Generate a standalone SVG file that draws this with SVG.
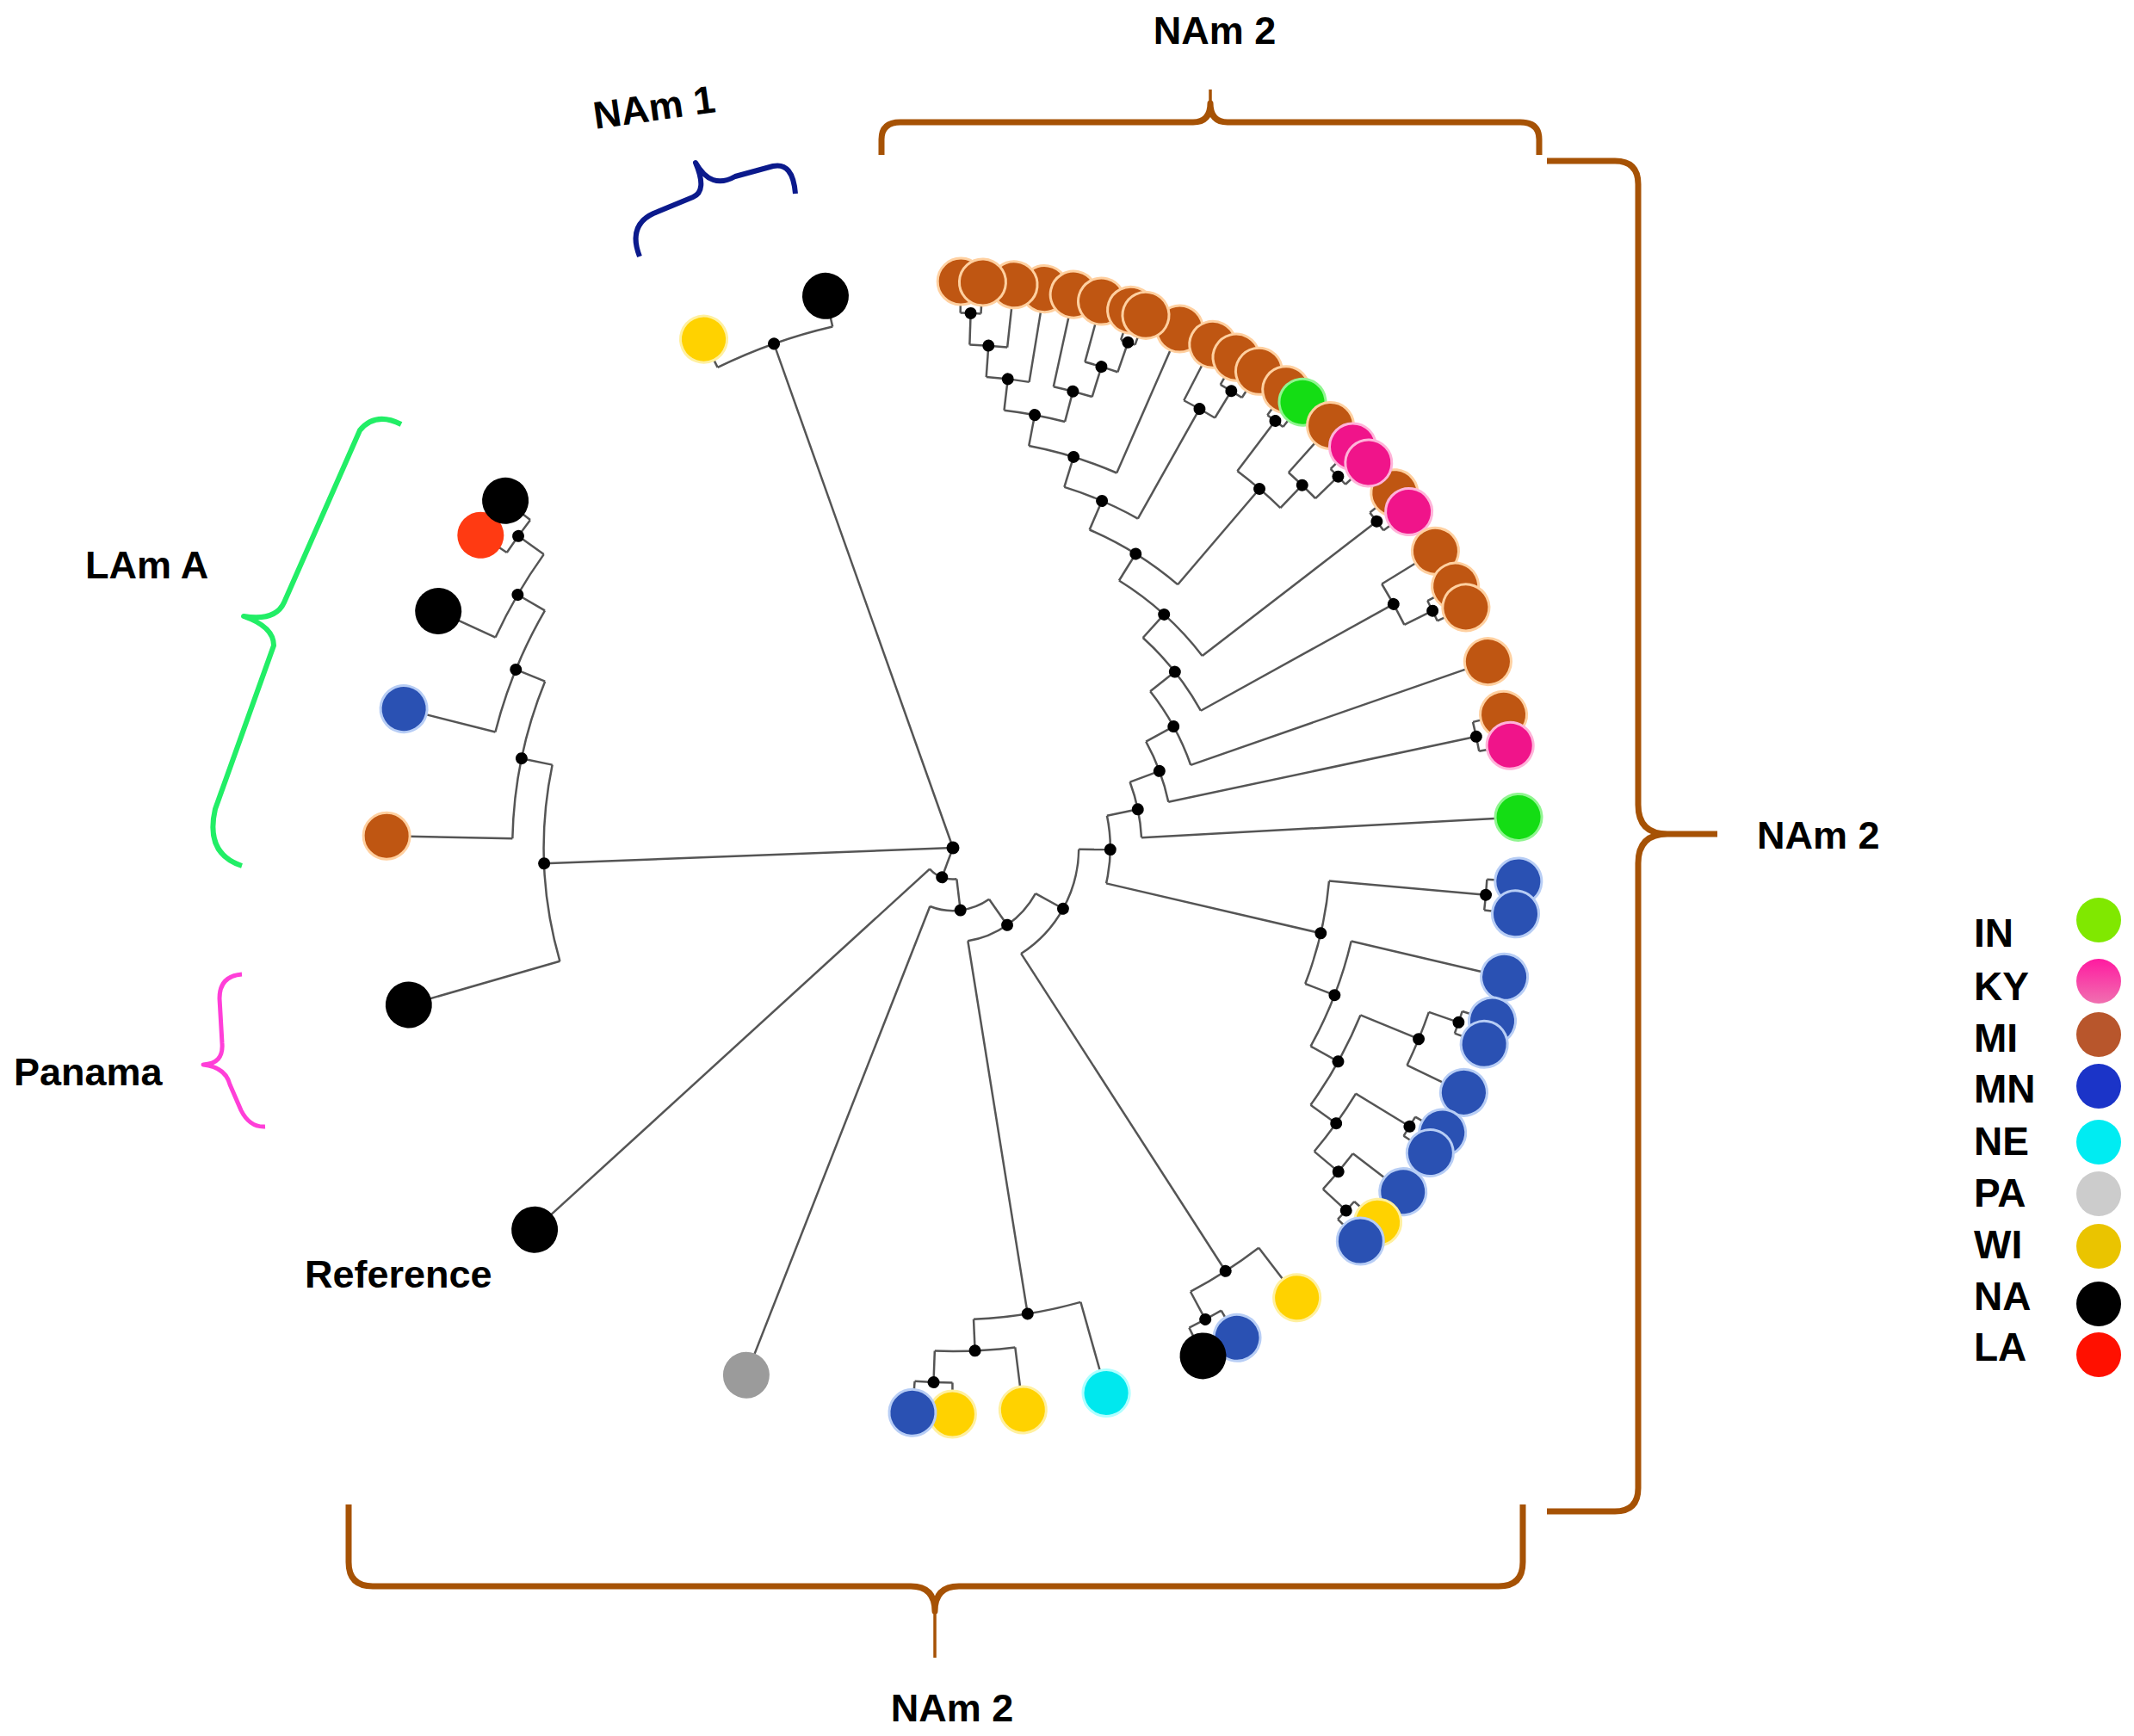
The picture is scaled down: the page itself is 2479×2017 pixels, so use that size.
<svg xmlns="http://www.w3.org/2000/svg" width="2479" height="2017" viewBox="0 0 2479 2017">
<defs>
<style>
.lbl{font-family:"Liberation Sans",Arial,sans-serif;font-weight:bold;font-size:45px;fill:#000}
.leg{font-family:"Liberation Sans",Arial,sans-serif;font-weight:bold;font-size:46px;fill:#000}
.brace{fill:none;stroke-linecap:butt;stroke-linejoin:round}
.tb{fill:#bf5612;stroke:#ffd0a0;stroke-width:3}
.tp{fill:#f0148a;stroke:#ffb3d9;stroke-width:3}
.tg{fill:#14dd14;stroke:#90f590;stroke-width:3}
.tu{fill:#2a51b3;stroke:#b7cdf5;stroke-width:3}
.ty{fill:#ffd200;stroke:#fff0a0;stroke-width:3}
.tc{fill:#00e8ee;stroke:#b0ffff;stroke-width:3}
.tk{fill:#000}
.tr{fill:#ff3a12}
.ta{fill:#9b9b9b}
.dot{fill:#000}
</style>
<linearGradient id="kyg" x1="0" y1="0" x2="0" y2="1">
<stop offset="0" stop-color="#ff1aa0"/>
<stop offset="1" stop-color="#f070b0"/>
</linearGradient>
</defs>
<rect width="2479" height="2017" fill="#fff"/>

<g id="connectors" transform="translate(1107,985)" fill="none" stroke="#555" stroke-width="2.5">
<path transform="rotate(110.38)" d="M0 0H36.56"/>
<path transform="rotate(177.8)" d="M0 0H475.23"/>
<path transform="rotate(250.45)" d="M0 0H621.45"/>
<circle r="621.45" transform="rotate(243.9)" stroke-dasharray="142.09 9999"/>
<path transform="rotate(243.9)" d="M621.45 0H658"/>
<path transform="rotate(257)" d="M621.45 0H658"/>
<circle r="475.23" transform="rotate(163.9)" stroke-dasharray="230.58 9999"/>
<path transform="rotate(163.9)" d="M475.23 0H658"/>
<path transform="rotate(191.7)" d="M475.23 0H511.78"/>
<circle r="511.78" transform="rotate(181.2)" stroke-dasharray="187.5 9999"/>
<path transform="rotate(181.2)" d="M511.78 0H658"/>
<path transform="rotate(202.19)" d="M511.78 0H548.34"/>
<circle r="548.34" transform="rotate(194.2)" stroke-dasharray="152.89 9999"/>
<path transform="rotate(194.2)" d="M548.34 0H658"/>
<path transform="rotate(210.175)" d="M548.34 0H584.9"/>
<circle r="584.9" transform="rotate(204.7)" stroke-dasharray="111.78 9999"/>
<path transform="rotate(204.7)" d="M584.9 0H658"/>
<path transform="rotate(215.65)" d="M584.9 0H621.45"/>
<circle r="621.45" transform="rotate(213.5)" stroke-dasharray="46.64 9999"/>
<path transform="rotate(213.5)" d="M621.45 0H658"/>
<path transform="rotate(217.8)" d="M621.45 0H658"/>
<circle r="36.56" transform="rotate(83.16)" stroke-dasharray="34.73 9999"/>
<path transform="rotate(83.16)" d="M36.56 0H73.11"/>
<path transform="rotate(137.6)" d="M36.56 0H658"/>
<circle r="73.11" transform="rotate(54.92)" stroke-dasharray="72.07 9999"/>
<path transform="rotate(54.92)" d="M73.11 0H109.67"/>
<path transform="rotate(111.4)" d="M73.11 0H658"/>
<circle r="109.67" transform="rotate(28.945)" stroke-dasharray="99.44 9999"/>
<path transform="rotate(28.945)" d="M109.67 0H146.22"/>
<path transform="rotate(80.9)" d="M109.67 0H548.34"/>
<circle r="548.34" transform="rotate(74.3)" stroke-dasharray="126.23 9999"/>
<path transform="rotate(74.3)" d="M548.34 0H658"/>
<path transform="rotate(87.49)" d="M548.34 0H584.9"/>
<circle r="584.9" transform="rotate(82.9)" stroke-dasharray="93.66 9999"/>
<path transform="rotate(82.9)" d="M584.9 0H658"/>
<path transform="rotate(92.075)" d="M584.9 0H621.45"/>
<circle r="621.45" transform="rotate(90.05)" stroke-dasharray="43.93 9999"/>
<path transform="rotate(90.05)" d="M621.45 0H658"/>
<path transform="rotate(94.1)" d="M621.45 0H658"/>
<circle r="146.22" transform="rotate(0.665)" stroke-dasharray="144.34 9999"/>
<path transform="rotate(0.665)" d="M146.22 0H182.78"/>
<path transform="rotate(57.225)" d="M146.22 0H584.9"/>
<circle r="584.9" transform="rotate(52.6)" stroke-dasharray="94.43 9999"/>
<path transform="rotate(52.6)" d="M584.9 0H658"/>
<path transform="rotate(61.85)" d="M584.9 0H621.45"/>
<circle r="621.45" transform="rotate(59.9)" stroke-dasharray="42.3 9999"/>
<path transform="rotate(59.9)" d="M621.45 0H658"/>
<path transform="rotate(63.8)" d="M621.45 0H658"/>
<circle r="182.78" transform="rotate(-11.75)" stroke-dasharray="79.21 9999"/>
<path transform="rotate(-11.75)" d="M182.78 0H219.33"/>
<path transform="rotate(13.08)" d="M182.78 0H438.67"/>
<circle r="438.67" transform="rotate(5.05)" stroke-dasharray="122.96 9999"/>
<path transform="rotate(5.05)" d="M438.67 0H621.45"/>
<path transform="rotate(21.11)" d="M438.67 0H475.23"/>
<circle r="621.45" transform="rotate(3.4)" stroke-dasharray="35.79 9999"/>
<path transform="rotate(3.4)" d="M621.45 0H658"/>
<path transform="rotate(6.7)" d="M621.45 0H658"/>
<circle r="475.23" transform="rotate(13.2)" stroke-dasharray="131.26 9999"/>
<path transform="rotate(13.2)" d="M475.23 0H658"/>
<path transform="rotate(29.025)" d="M475.23 0H511.78"/>
<circle r="511.78" transform="rotate(22.325)" stroke-dasharray="119.69 9999"/>
<path transform="rotate(22.325)" d="M511.78 0H584.9"/>
<path transform="rotate(35.725)" d="M511.78 0H548.34"/>
<circle r="584.9" transform="rotate(19.05)" stroke-dasharray="66.86 9999"/>
<path transform="rotate(19.05)" d="M584.9 0H621.45"/>
<path transform="rotate(25.6)" d="M584.9 0H658"/>
<circle r="621.45" transform="rotate(17.8)" stroke-dasharray="27.12 9999"/>
<path transform="rotate(17.8)" d="M621.45 0H658"/>
<path transform="rotate(20.3)" d="M621.45 0H658"/>
<circle r="548.34" transform="rotate(31.4)" stroke-dasharray="82.78 9999"/>
<path transform="rotate(31.4)" d="M548.34 0H621.45"/>
<path transform="rotate(40.05)" d="M548.34 0H584.9"/>
<circle r="621.45" transform="rotate(30.2)" stroke-dasharray="26.03 9999"/>
<path transform="rotate(30.2)" d="M621.45 0H658"/>
<path transform="rotate(32.6)" d="M621.45 0H658"/>
<circle r="584.9" transform="rotate(37.4)" stroke-dasharray="54.1 9999"/>
<path transform="rotate(37.4)" d="M584.9 0H658"/>
<path transform="rotate(42.7)" d="M584.9 0H621.45"/>
<circle r="621.45" transform="rotate(41.4)" stroke-dasharray="28.2 9999"/>
<path transform="rotate(41.4)" d="M621.45 0H658"/>
<path transform="rotate(44)" d="M621.45 0H658"/>
<circle r="219.33" transform="rotate(-20.4)" stroke-dasharray="66.23 9999"/>
<path transform="rotate(-20.4)" d="M219.33 0H255.89"/>
<path transform="rotate(-3.1)" d="M219.33 0H658"/>
<circle r="255.89" transform="rotate(-28.805)" stroke-dasharray="75.05 9999"/>
<path transform="rotate(-28.805)" d="M255.89 0H292.45"/>
<path transform="rotate(-12)" d="M255.89 0H621.45"/>
<circle r="621.45" transform="rotate(-13.6)" stroke-dasharray="34.71 9999"/>
<path transform="rotate(-13.6)" d="M621.45 0H658"/>
<path transform="rotate(-10.4)" d="M621.45 0H658"/>
<circle r="292.45" transform="rotate(-38.41)" stroke-dasharray="98.05 9999"/>
<path transform="rotate(-38.41)" d="M292.45 0H329"/>
<path transform="rotate(-19.2)" d="M292.45 0H658"/>
<circle r="329" transform="rotate(-47.87)" stroke-dasharray="108.64 9999"/>
<path transform="rotate(-47.87)" d="M329 0H365.56"/>
<path transform="rotate(-28.95)" d="M329 0H584.9"/>
<circle r="584.9" transform="rotate(-31.6)" stroke-dasharray="54.1 9999"/>
<path transform="rotate(-31.6)" d="M584.9 0H658"/>
<path transform="rotate(-26.3)" d="M584.9 0H621.45"/>
<circle r="621.45" transform="rotate(-27.5)" stroke-dasharray="26.03 9999"/>
<path transform="rotate(-27.5)" d="M621.45 0H658"/>
<path transform="rotate(-25.1)" d="M621.45 0H658"/>
<circle r="365.56" transform="rotate(-58.14)" stroke-dasharray="131.05 9999"/>
<path transform="rotate(-58.14)" d="M365.56 0H402.11"/>
<path transform="rotate(-37.6)" d="M365.56 0H621.45"/>
<circle r="621.45" transform="rotate(-38.8)" stroke-dasharray="26.03 9999"/>
<path transform="rotate(-38.8)" d="M621.45 0H658"/>
<path transform="rotate(-36.4)" d="M621.45 0H658"/>
<circle r="402.11" transform="rotate(-66.76)" stroke-dasharray="121.07 9999"/>
<path transform="rotate(-66.76)" d="M402.11 0H438.67"/>
<path transform="rotate(-49.51)" d="M402.11 0H548.34"/>
<circle r="548.34" transform="rotate(-52.95)" stroke-dasharray="65.8 9999"/>
<path transform="rotate(-52.95)" d="M548.34 0H621.45"/>
<path transform="rotate(-46.075)" d="M548.34 0H584.9"/>
<circle r="621.45" transform="rotate(-54)" stroke-dasharray="22.78 9999"/>
<path transform="rotate(-54)" d="M621.45 0H658"/>
<path transform="rotate(-51.9)" d="M621.45 0H658"/>
<circle r="584.9" transform="rotate(-48.2)" stroke-dasharray="43.39 9999"/>
<path transform="rotate(-48.2)" d="M584.9 0H658"/>
<path transform="rotate(-43.95)" d="M584.9 0H621.45"/>
<circle r="621.45" transform="rotate(-45.1)" stroke-dasharray="24.95 9999"/>
<path transform="rotate(-45.1)" d="M621.45 0H658"/>
<path transform="rotate(-42.8)" d="M621.45 0H658"/>
<circle r="438.67" transform="rotate(-72.85)" stroke-dasharray="93.21 9999"/>
<path transform="rotate(-72.85)" d="M438.67 0H475.23"/>
<path transform="rotate(-60.675)" d="M438.67 0H584.9"/>
<circle r="584.9" transform="rotate(-62.7)" stroke-dasharray="41.34 9999"/>
<path transform="rotate(-62.7)" d="M584.9 0H658"/>
<path transform="rotate(-58.65)" d="M584.9 0H621.45"/>
<circle r="621.45" transform="rotate(-60)" stroke-dasharray="29.28 9999"/>
<path transform="rotate(-60)" d="M621.45 0H658"/>
<path transform="rotate(-57.3)" d="M621.45 0H658"/>
<circle r="475.23" transform="rotate(-79.3)" stroke-dasharray="107 9999"/>
<path transform="rotate(-79.3)" d="M475.23 0H511.78"/>
<path transform="rotate(-66.4)" d="M475.23 0H658"/>
<circle r="511.78" transform="rotate(-83.325)" stroke-dasharray="71.9 9999"/>
<path transform="rotate(-83.325)" d="M511.78 0H548.34"/>
<path transform="rotate(-75.275)" d="M511.78 0H548.34"/>
<circle r="548.34" transform="rotate(-85.95)" stroke-dasharray="50.24 9999"/>
<path transform="rotate(-85.95)" d="M548.34 0H584.9"/>
<path transform="rotate(-80.7)" d="M548.34 0H658"/>
<circle r="584.9" transform="rotate(-88.1)" stroke-dasharray="43.9 9999"/>
<path transform="rotate(-88.1)" d="M584.9 0H621.45"/>
<path transform="rotate(-83.8)" d="M584.9 0H658"/>
<circle r="621.45" transform="rotate(-89.2)" stroke-dasharray="23.86 9999"/>
<path transform="rotate(-89.2)" d="M621.45 0H658"/>
<path transform="rotate(-87)" d="M621.45 0H658"/>
<circle r="548.34" transform="rotate(-77.7)" stroke-dasharray="46.42 9999"/>
<path transform="rotate(-77.7)" d="M548.34 0H658"/>
<path transform="rotate(-72.85)" d="M548.34 0H584.9"/>
<circle r="584.9" transform="rotate(-74.8)" stroke-dasharray="39.81 9999"/>
<path transform="rotate(-74.8)" d="M584.9 0H658"/>
<path transform="rotate(-70.9)" d="M584.9 0H621.45"/>
<circle r="621.45" transform="rotate(-71.7)" stroke-dasharray="17.35 9999"/>
<path transform="rotate(-71.7)" d="M621.45 0H658"/>
<path transform="rotate(-70.1)" d="M621.45 0H658"/>
</g>

<g id="tips" transform="translate(1107,985)">
<g id="tip-mi-01" transform="rotate(-89.2)"><circle class="tb" cx="658" r="27"/></g>
<g id="tip-mi-04" transform="rotate(-80.7)"><circle class="tb" cx="658" r="27"/></g>
<g id="tip-mi-03" transform="rotate(-83.8)"><circle class="tb" cx="658" r="27"/></g>
<g id="tip-mi-02" transform="rotate(-87)"><circle class="tb" cx="658" r="27"/></g>
<g id="tip-mi-05" transform="rotate(-77.7)"><circle class="tb" cx="658" r="27"/></g>
<g id="tip-mi-06" transform="rotate(-74.8)"><circle class="tb" cx="658" r="27"/></g>
<g id="tip-mi-07" transform="rotate(-71.7)"><circle class="tb" cx="658" r="27"/></g>
<g id="tip-mi-09" transform="rotate(-66.4)"><circle class="tb" cx="658" r="27"/></g>
<g id="tip-mi-08" transform="rotate(-70.1)"><circle class="tb" cx="658" r="27"/></g>
<g id="tip-mi-10" transform="rotate(-62.7)"><circle class="tb" cx="658" r="27"/></g>
<g id="tip-mi-11" transform="rotate(-60)"><circle class="tb" cx="658" r="27"/></g>
<g id="tip-mi-12" transform="rotate(-57.3)"><circle class="tb" cx="658" r="27"/></g>
<g id="tip-mi-13" transform="rotate(-54)"><circle class="tb" cx="658" r="27"/></g>
<g id="tip-in-01" transform="rotate(-51.9)"><circle class="tg" cx="658" r="27"/></g>
<g id="tip-mi-14" transform="rotate(-48.2)"><circle class="tb" cx="658" r="27"/></g>
<g id="tip-mi-15" transform="rotate(-38.8)"><circle class="tb" cx="658" r="27"/></g>
<g id="tip-ky-01" transform="rotate(-45.1)"><circle class="tp" cx="658" r="27"/></g>
<g id="tip-ky-02" transform="rotate(-42.8)"><circle class="tp" cx="658" r="27"/></g>
<g id="tip-ky-03" transform="rotate(-36.4)"><circle class="tp" cx="658" r="27"/></g>
<g id="tip-mi-16" transform="rotate(-31.6)"><circle class="tb" cx="658" r="27"/></g>
<g id="tip-mi-17" transform="rotate(-27.5)"><circle class="tb" cx="658" r="27"/></g>
<g id="tip-mi-18" transform="rotate(-25.1)"><circle class="tb" cx="658" r="27"/></g>
<g id="tip-mi-19" transform="rotate(-19.2)"><circle class="tb" cx="658" r="27"/></g>
<g id="tip-mi-20" transform="rotate(-13.6)"><circle class="tb" cx="658" r="27"/></g>
<g id="tip-ky-04" transform="rotate(-10.4)"><circle class="tp" cx="658" r="27"/></g>
<g id="tip-in-02" transform="rotate(-3.1)"><circle class="tg" cx="658" r="27"/></g>
<g id="tip-mn-01" transform="rotate(3.4)"><circle class="tu" cx="658" r="27"/></g>
<g id="tip-mn-02" transform="rotate(6.7)"><circle class="tu" cx="658" r="27"/></g>
<g id="tip-mn-03" transform="rotate(13.2)"><circle class="tu" cx="658" r="27"/></g>
<g id="tip-mn-04" transform="rotate(17.8)"><circle class="tu" cx="658" r="27"/></g>
<g id="tip-mn-05" transform="rotate(20.3)"><circle class="tu" cx="658" r="27"/></g>
<g id="tip-mn-06" transform="rotate(25.6)"><circle class="tu" cx="658" r="27"/></g>
<g id="tip-mn-07" transform="rotate(30.2)"><circle class="tu" cx="658" r="27"/></g>
<g id="tip-mn-08" transform="rotate(32.6)"><circle class="tu" cx="658" r="27"/></g>
<g id="tip-mn-09" transform="rotate(37.4)"><circle class="tu" cx="658" r="27"/></g>
<g id="tip-wi-01" transform="rotate(41.4)"><circle class="ty" cx="658" r="27"/></g>
<g id="tip-mn-10" transform="rotate(44)"><circle class="tu" cx="658" r="27"/></g>
<g id="tip-wi-02" transform="rotate(52.6)"><circle class="ty" cx="658" r="27"/></g>
<g id="tip-mn-11" transform="rotate(59.9)"><circle class="tu" cx="658" r="27"/></g>
<g id="tip-na-01" transform="rotate(63.8)"><circle class="tk" cx="658" r="27"/></g>
<g id="tip-ne-01" transform="rotate(74.3)"><circle class="tc" cx="658" r="27"/></g>
<g id="tip-wi-03" transform="rotate(82.9)"><circle class="ty" cx="658" r="27"/></g>
<g id="tip-wi-04" transform="rotate(90.05)"><circle class="ty" cx="658" r="27"/></g>
<g id="tip-mn-12" transform="rotate(94.1)"><circle class="tu" cx="658" r="27"/></g>
<g id="tip-pa-01" transform="rotate(111.4)"><circle class="ta" cx="658" r="27"/></g>
<g id="tip-reference" transform="rotate(137.6)"><circle class="tk" cx="658" r="27"/></g>
<g id="tip-panama" transform="rotate(163.9)"><circle class="tk" cx="658" r="27"/></g>
<g id="tip-lam-mi" transform="rotate(181.2)"><circle class="tb" cx="658" r="27"/></g>
<g id="tip-lam-mn" transform="rotate(194.2)"><circle class="tu" cx="658" r="27"/></g>
<g id="tip-lam-na-02" transform="rotate(204.7)"><circle class="tk" cx="658" r="27"/></g>
<g id="tip-lam-la" transform="rotate(213.5)"><circle class="tr" cx="658" r="27"/></g>
<g id="tip-lam-na-01" transform="rotate(217.8)"><circle class="tk" cx="658" r="27"/></g>
<g id="tip-nam1-wi" transform="rotate(243.9)"><circle class="ty" cx="658" r="27"/></g>
<g id="tip-nam1-na" transform="rotate(257)"><circle class="tk" cx="658" r="27"/></g>
</g>

<g id="internal-nodes" transform="translate(1107,985)" class="dot">
<g id="n-root"><circle r="7.5"/></g>
<g id="n-N1" transform="rotate(110.38)"><circle cx="36.56" r="7"/></g>
<g id="n-N2" transform="rotate(83.16)"><circle cx="73.11" r="7"/></g>
<g id="n-N3" transform="rotate(54.92)"><circle cx="109.67" r="7"/></g>
<g id="n-N4" transform="rotate(28.945)"><circle cx="146.22" r="7"/></g>
<g id="n-N5" transform="rotate(0.665)"><circle cx="182.78" r="7"/></g>
<g id="n-N6" transform="rotate(-11.75)"><circle cx="219.33" r="7"/></g>
<g id="n-N7" transform="rotate(-20.4)"><circle cx="255.89" r="7"/></g>
<g id="n-N8" transform="rotate(-28.805)"><circle cx="292.45" r="7"/></g>
<g id="n-N9" transform="rotate(-38.41)"><circle cx="329" r="7"/></g>
<g id="n-U8" transform="rotate(-47.87)"><circle cx="365.56" r="7"/></g>
<g id="n-U7" transform="rotate(-58.14)"><circle cx="402.11" r="7"/></g>
<g id="n-U6" transform="rotate(-66.76)"><circle cx="438.67" r="7"/></g>
<g id="n-U5" transform="rotate(-72.85)"><circle cx="475.23" r="7"/></g>
<g id="n-U4" transform="rotate(-79.3)"><circle cx="511.78" r="7"/></g>
<g id="n-U3" transform="rotate(-83.325)"><circle cx="548.34" r="7"/></g>
<g id="n-U2" transform="rotate(-85.95)"><circle cx="584.9" r="7"/></g>
<g id="n-U1" transform="rotate(-88.1)"><circle cx="621.45" r="7"/></g>
<g id="n-U13" transform="rotate(-75.275)"><circle cx="548.34" r="7"/></g>
<g id="n-U14" transform="rotate(-72.85)"><circle cx="584.9" r="7"/></g>
<g id="n-U15" transform="rotate(-70.9)"><circle cx="621.45" r="7"/></g>
<g id="n-U16" transform="rotate(-60.675)"><circle cx="584.9" r="7"/></g>
<g id="n-U17" transform="rotate(-58.65)"><circle cx="621.45" r="7"/></g>
<g id="n-U18" transform="rotate(-49.51)"><circle cx="548.34" r="7"/></g>
<g id="n-U19" transform="rotate(-52.95)"><circle cx="621.45" r="7"/></g>
<g id="n-U20" transform="rotate(-46.075)"><circle cx="584.9" r="7"/></g>
<g id="n-U21" transform="rotate(-43.95)"><circle cx="621.45" r="7"/></g>
<g id="n-U22" transform="rotate(-37.6)"><circle cx="621.45" r="7"/></g>
<g id="n-U23" transform="rotate(-28.95)"><circle cx="584.9" r="7"/></g>
<g id="n-U24" transform="rotate(-26.3)"><circle cx="621.45" r="7"/></g>
<g id="n-U25" transform="rotate(-12)"><circle cx="621.45" r="7"/></g>
<g id="n-M1" transform="rotate(13.08)"><circle cx="438.67" r="7"/></g>
<g id="n-M10" transform="rotate(5.05)"><circle cx="621.45" r="7"/></g>
<g id="n-M2" transform="rotate(21.11)"><circle cx="475.23" r="7"/></g>
<g id="n-M3" transform="rotate(29.025)"><circle cx="511.78" r="7"/></g>
<g id="n-M7" transform="rotate(22.325)"><circle cx="584.9" r="7"/></g>
<g id="n-M8" transform="rotate(19.05)"><circle cx="621.45" r="7"/></g>
<g id="n-M4" transform="rotate(35.725)"><circle cx="548.34" r="7"/></g>
<g id="n-M9" transform="rotate(31.4)"><circle cx="621.45" r="7"/></g>
<g id="n-M5" transform="rotate(40.05)"><circle cx="584.9" r="7"/></g>
<g id="n-M6" transform="rotate(42.7)"><circle cx="621.45" r="7"/></g>
<g id="n-BB1" transform="rotate(57.225)"><circle cx="584.9" r="7"/></g>
<g id="n-BB2" transform="rotate(61.85)"><circle cx="621.45" r="7"/></g>
<g id="n-BC1" transform="rotate(80.9)"><circle cx="548.34" r="7"/></g>
<g id="n-BC2" transform="rotate(87.49)"><circle cx="584.9" r="7"/></g>
<g id="n-BC3" transform="rotate(92.075)"><circle cx="621.45" r="7"/></g>
<g id="n-A" transform="rotate(177.8)"><circle cx="475.23" r="7"/></g>
<g id="n-B" transform="rotate(191.7)"><circle cx="511.78" r="7"/></g>
<g id="n-C" transform="rotate(202.19)"><circle cx="548.34" r="7"/></g>
<g id="n-D" transform="rotate(210.175)"><circle cx="584.9" r="7"/></g>
<g id="n-E" transform="rotate(215.65)"><circle cx="621.45" r="7"/></g>
<g id="n-NAm1" transform="rotate(250.45)"><circle cx="621.45" r="7"/></g>
</g>

<g id="clade-nam2-top">
<path class="brace" stroke="#a65205" stroke-width="7" d="M1024,180 L1024,162 Q1024,142 1046,142 L1386,142 Q1406,142 1406,120 Q1406,142 1426,142 L1766,142 Q1788,142 1788,162 L1788,180"/>
<path fill="none" stroke="#a65205" stroke-width="3.5" d="M1406,124 L1406,104"/>
<text class="lbl" x="1411" y="51" text-anchor="middle">NAm 2</text>
</g>
<g id="clade-nam2-right">
<path class="brace" stroke="#a65205" stroke-width="7" d="M1797,187 L1876,187 Q1903,187 1903,214 L1903,935 Q1903,969 1937,969 L1995,969 M1937,969 Q1903,969 1903,1003 L1903,1729 Q1903,1756 1876,1756 L1797,1756"/>
<text class="lbl" x="2041" y="986">NAm 2</text>
</g>
<g id="clade-nam2-bottom">
<path class="brace" stroke="#a65205" stroke-width="7" d="M405,1748 L405,1815 Q405,1843 433,1843 L1058,1843 Q1086,1843 1086,1872 Q1086,1843 1114,1843 L1741,1843 Q1769,1843 1769,1815 L1769,1748"/>
<path fill="none" stroke="#a65205" stroke-width="3.5" d="M1086,1866 L1086,1926"/>
<text class="lbl" x="1106" y="2000" text-anchor="middle">NAm 2</text>
</g>
<g id="clade-nam1">
<path class="brace" stroke="#0b1a8c" stroke-width="6" d="M743,298 Q729,262 759,248 L805,229 Q822,222 808,189 Q826,221 854,205 L898,193 Q921,188 924,225"/>
<text class="lbl" x="762" y="140" text-anchor="middle" transform="rotate(-8 762 140)">NAm 1</text>
</g>
<g id="clade-lama">
<path class="brace" stroke="#22ee66" stroke-width="6" d="M466,493 Q436,478 418,500 L330,700 Q320,722 283,716 Q318,728 318,750 L250,940 Q238,992 281,1006"/>
<text class="lbl" x="99" y="672">LAm A</text>
</g>
<g id="clade-panama">
<path class="brace" stroke="#ff3fd8" stroke-width="5" d="M281,1132 Q255,1134 255,1160 L258,1212 Q260,1236 236,1237 Q262,1240 267,1260 L280,1290 Q290,1310 308,1309"/>
<text class="lbl" x="16" y="1261">Panama</text>
</g>
<g id="label-reference">
<text class="lbl" x="354" y="1496">Reference</text>
</g>

<g id="legend">
<text class="leg" x="2293" y="1100">IN</text><circle cx="2438" cy="1069" r="26" fill="#80e800"/>
<text class="leg" x="2293" y="1162">KY</text><circle cx="2438" cy="1140" r="26" fill="url(#kyg)"/>
<text class="leg" x="2293" y="1222">MI</text><circle cx="2438" cy="1202" r="26" fill="#b8562c"/>
<text class="leg" x="2293" y="1281">MN</text><circle cx="2438" cy="1262" r="26" fill="#1b34c8"/>
<text class="leg" x="2293" y="1342">NE</text><circle cx="2438" cy="1327" r="26" fill="#00ecf2"/>
<text class="leg" x="2293" y="1402">PA</text><circle cx="2438" cy="1387" r="26" fill="#cccccc"/>
<text class="leg" x="2293" y="1462">WI</text><circle cx="2438" cy="1448" r="26" fill="#eac400"/>
<text class="leg" x="2293" y="1522">NA</text><circle cx="2438" cy="1515" r="26" fill="#000"/>
<text class="leg" x="2293" y="1581">LA</text><circle cx="2438" cy="1574" r="26" fill="#ff1000"/>
</g>
</svg>
